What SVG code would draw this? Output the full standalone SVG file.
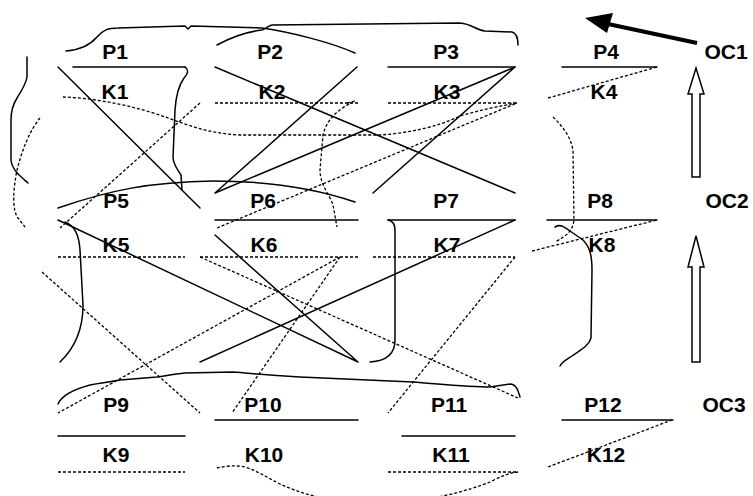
<svg xmlns="http://www.w3.org/2000/svg" width="753" height="496" viewBox="0 0 753 496">
<style>
text{font-family:"Liberation Sans",Arial,sans-serif;font-weight:bold;font-size:21px;text-anchor:middle;fill:#000}
.s{fill:none;stroke:#000;stroke-width:1.5;stroke-linecap:round;stroke-linejoin:round}
.d{fill:none;stroke:#000;stroke-width:1.3;stroke-dasharray:3 2}
.b{fill:#fff;stroke:#000;stroke-width:1.5}
</style>
<rect width="753" height="496" fill="#fff"/>
<g id="connectors">
<g class="s">
<path d="M73,67 H185 M388,67 H515 M562,67 H657 M215,220 H358 M388,220 H515 M547,220 H657 M58,436 H185 M215,420 H358 M402,436 H515 M562,420 H673"/>
<path d="M58,67 L200,208 M215,67 L515,193 M357,67 L215,193 L515,67 L373,193 M58,220 L358,362 L215,235 M200,362 L515,220"/>
<path d="M66,51 C80,50 90,45 97,37 C103,30 108,28 118,28 L185,26 L188,29 L191,26 L262,28 C290,32 330,42 355,53"/>
<path d="M217,45 C230,38 245,32 262,30 C266,29 267,26 272,25 L460,23 C472,24 476,30 485,31 L512,32 C516,33 518,36 518,45"/>
<path d="M27,57 L27,77 C26,84 22,90 17,98 C12,106 11,112 11,120 L11,160 C12,170 20,176 28,183"/>
<path d="M185,67 C189,70 188,74 184,78 C179,85 176,95 175,110 L173,158 C174,166 178,170 181,175 L182,190"/>
<path d="M58,208 C110,190 150,182 213,181 C270,181 320,190 355,202"/>
<path d="M65,222 C75,226 79,235 80,250 L83,305 C83,325 78,345 60,362"/>
<path d="M388,220 C393,221 395,224 395,230 L395,340 C395,352 388,361 370,362"/>
<path d="M555,227 C560,224 563,226 570,231 L583,240 C590,247 592,256 592,270 L591,338 C589,346 580,350 572,356 C566,360 562,362 560,366"/>
<path d="M58,404 C62,395 75,389 90,385 C100,383 110,382 120,380 L157,377 C170,375 175,374 185,373 L233,372 C250,373 260,375 300,377 L413,382 C440,384 470,387 490,387 L510,384 C516,384 518,390 520,397"/>
</g>
<g class="d">
<path d="M215,103 H358 M388,103 H517 M58,257 H185 M200,257 H358 M373,257 H515 M58,472 H185 M388,472 H518"/>
<path d="M40,118 C30,130 22,150 17,170 C13,190 12,210 18,218 L25,227"/>
<path d="M63,97 C90,98 120,103 150,112 C180,121 200,133 240,135 L380,135 C410,133 440,126 460,116 C480,110 500,106 517,103"/>
<path d="M347,103 L355,101 C340,108 327,118 323,135 L320,170 C320,185 330,195 333,205 L337,227"/>
<path d="M200,103 L60,228 M217,228 L517,103 M548,98 L657,67 M532,251 L657,220 M548,467 L672,420"/>
<path d="M553,117 C562,126 570,135 573,150 L574,220 C573,230 567,236 555,242"/>
<path d="M200,257 L518,398 M340,257 L58,413 M340,257 L232,413 M42,272 L200,413 M515,257 L388,413"/>
<path d="M217,468 C225,466 235,465 245,467 C258,471 268,478 280,484 C300,493 320,500 375,505 C430,502 470,490 490,482 C500,477 508,473 518,472"/>
</g>
<path d="M697,43 L608,24" fill="none" stroke="#000" stroke-width="4"/>
<polygon points="585,18 613,13 607,33" fill="#000"/>
<polygon class="b" points="692,177 692,94 688,94 696,68 704,94 700,94 700,177"/>
<polygon class="b" points="692,362 692,267 688,267 696,236 704,267 700,267 700,362"/>
</g>
<g id="P1"><text x="115" y="59">P1</text></g>
<g id="K1"><text x="115" y="99">K1</text></g>
<g id="P2"><text x="270" y="59">P2</text></g>
<g id="K2"><text x="272" y="99">K2</text></g>
<g id="P3"><text x="446" y="59">P3</text></g>
<g id="K3"><text x="447" y="99">K3</text></g>
<g id="P4"><text x="606" y="59">P4</text></g>
<g id="K4"><text x="604" y="99">K4</text></g>
<g id="OC1"><text x="726" y="59">OC1</text></g>
<g id="P5"><text x="116" y="208">P5</text></g>
<g id="K5"><text x="116" y="252">K5</text></g>
<g id="P6"><text x="263" y="208">P6</text></g>
<g id="K6"><text x="264" y="252">K6</text></g>
<g id="P7"><text x="446" y="208">P7</text></g>
<g id="K7"><text x="447" y="252">K7</text></g>
<g id="P8"><text x="600" y="208">P8</text></g>
<g id="K8"><text x="602" y="252">K8</text></g>
<g id="OC2"><text x="727" y="208">OC2</text></g>
<g id="P9"><text x="116" y="412">P9</text></g>
<g id="K9"><text x="116" y="462">K9</text></g>
<g id="P10"><text x="263" y="412">P10</text></g>
<g id="K10"><text x="264" y="462">K10</text></g>
<g id="P11"><text x="449" y="412">P11</text></g>
<g id="K11"><text x="451" y="462">K11</text></g>
<g id="P12"><text x="603" y="412">P12</text></g>
<g id="K12"><text x="606" y="462">K12</text></g>
<g id="OC3"><text x="724" y="412">OC3</text></g>
</svg>
